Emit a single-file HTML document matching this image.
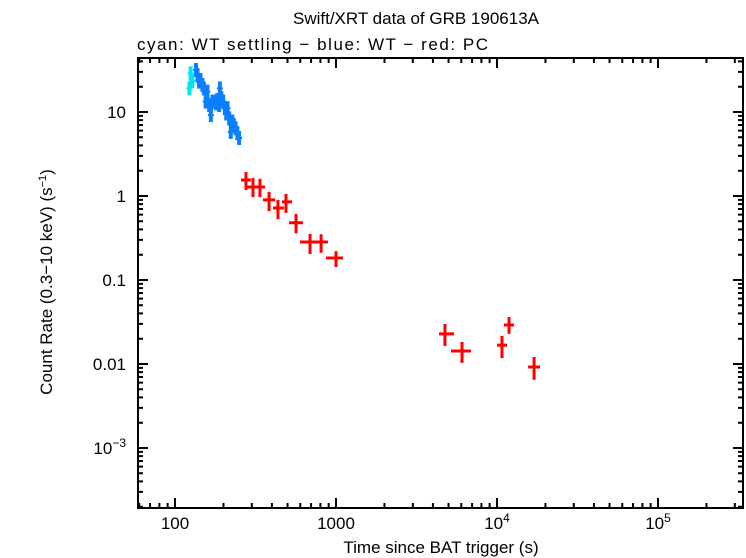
<!DOCTYPE html>
<html><head><meta charset="utf-8"><style>
body{margin:0;background:#fff;}
svg{display:block;font-family:"Liberation Sans",sans-serif;}
</style></head><body>
<svg id="chart" width="746" height="558" viewBox="0 0 746 558">
<text x="416" y="24" font-size="17" text-anchor="middle">Swift/XRT data of GRB 190613A</text>
<text x="137" y="50" font-size="17" textLength="351" lengthAdjust="spacing">cyan: WT settling − blue: WT − red: PC</text>
<text x="441" y="553" font-size="17" text-anchor="middle">Time since BAT trigger (s)</text>
<text transform="translate(52,282) rotate(-90)" font-size="17" text-anchor="middle">Count Rate (0.3−10 keV) (s<tspan dy="-6" font-size="11">−1</tspan><tspan dy="6">)</tspan></text>
<g id="ticks"></g>
<g id="marks"></g>
<rect x="138" y="58" width="605" height="450" fill="none" stroke="#000" stroke-width="2"/>
</svg>
<script>
const xTickVals=[100,1000,10000,100000];
const xTickLabels=["100","1000","10^4","10^5"];
const yTickVals=[10,1,0.1,0.01,0.001];
const yTickLabels=["10","1","0.1","0.01","10^−3"];
const cyanT=[123,125,128];
const cyanR=[19.1,28.8,23.4];
const blueT=[135,138,141,144,148,151,155,159,163,167,171,175,179,183,188,190,194,199,204,208,212,217,222,227,232,238,244,250];
const blueR=[31.6,27.5,23,24,21,19.1,13.3,17.5,12.1,9.2,13.3,13.3,12.7,13.9,12.1,19.1,14.6,13.3,11.1,9.6,11.1,8.4,5.8,7.7,7.0,6.4,5.6,4.9];
const pcT=[276,305,337,384,436,489,565,690,808,1000,4750,6065,10740,11880,17000];
const pcTlo=[257,280,328,352,406,462,511,597,741,867,4365,5180,10000,11050,15600];
const pcThi=[296,328,362,418,475,533,624,741,891,1105,5410,6900,11540,12760,18500];
const pcR=[1.55,1.28,1.28,0.90,0.72,0.85,0.48,0.283,0.283,0.183,0.0228,0.0143,0.0168,0.0291,0.0092];
const pcRlo=[1.18,0.97,0.97,0.66,0.53,0.63,0.36,0.204,0.21,0.143,0.0164,0.0103,0.0118,0.0228,0.0065];
const pcRhi=[1.93,1.64,1.60,1.12,0.90,1.06,0.61,0.353,0.35,0.221,0.0299,0.0183,0.0216,0.0363,0.0121];
const X=t=>175+(Math.log10(t)-2)*161;
const Y=r=>112-(Math.log10(r)-1)*84;
const NS="http://www.w3.org/2000/svg";
function mk(tag,attrs,parent){const e=document.createElementNS(NS,tag);for(const k in attrs)e.setAttribute(k,attrs[k]);parent.appendChild(e);return e;}
const tg=document.getElementById('ticks'),mg=document.getElementById('marks');
const L=138,R=743,T=58,B=508;
function lbl(txt,x,y,anchor,name){
  const t=mk('text',{x:x,y:y,'font-size':17,'text-anchor':anchor},tg);
  
  
  const m=txt.split('^');
  t.appendChild(document.createTextNode(m[0]));
  if(m[1]){const s=mk('tspan',{dy:-7,'font-size':12},t);s.textContent=m[1];}
}
for(let d=1;d<=5;d++){for(let k=1;k<10;k++){const v=k*Math.pow(10,d);const x=X(v);if(x<L||x>R)continue;const len=k===1?10:5;
 const a=mk('path',{d:`M${x},${B}v${-len}M${x},${T}v${len}`,stroke:'#000','stroke-width':2},tg);
 
 }}
xTickVals.forEach((v,i)=>lbl(xTickLabels[i],X(v),529,'middle','x-tick-label'));
for(let d=-4;d<=1;d++){for(let k=1;k<10;k++){const v=k*Math.pow(10,d);const y=Y(v);if(y<T||y>B)continue;const len=k===1?10:5;
 const a=mk('path',{d:`M${L},${y}h${len}M${R},${y}h${-len}`,stroke:'#000','stroke-width':2},tg);
 
 }}
yTickVals.forEach((v,i)=>lbl(yTickLabels[i],126,Y(v)+6,'end','y-tick-label'));
function wt(ts,rs,col,name){ts.forEach((t,i)=>{const x=X(t),y=Y(rs[i]),e=7;
 const r=mk('rect',{x:x-2,y:y-e,width:4,height:2*e,fill:col},mg);
 
 
 mk('rect',{x:x-3,y:y-1,width:6,height:2,fill:col},mg);});}
wt(cyanT,cyanR,'#00e5ee','wt-settling-point');
wt(blueT,blueR,'#0a7fff','wt-point');
pcT.forEach((t,i)=>{
 const g=mk('path',{d:`M${X(pcTlo[i])},${Y(pcR[i])}H${X(pcThi[i])}M${X(t)},${Y(pcRhi[i])}V${Y(pcRlo[i])}`,stroke:'#ff0000','stroke-width':3,fill:'none'},mg);
 
 
});
</script>
</body></html>
